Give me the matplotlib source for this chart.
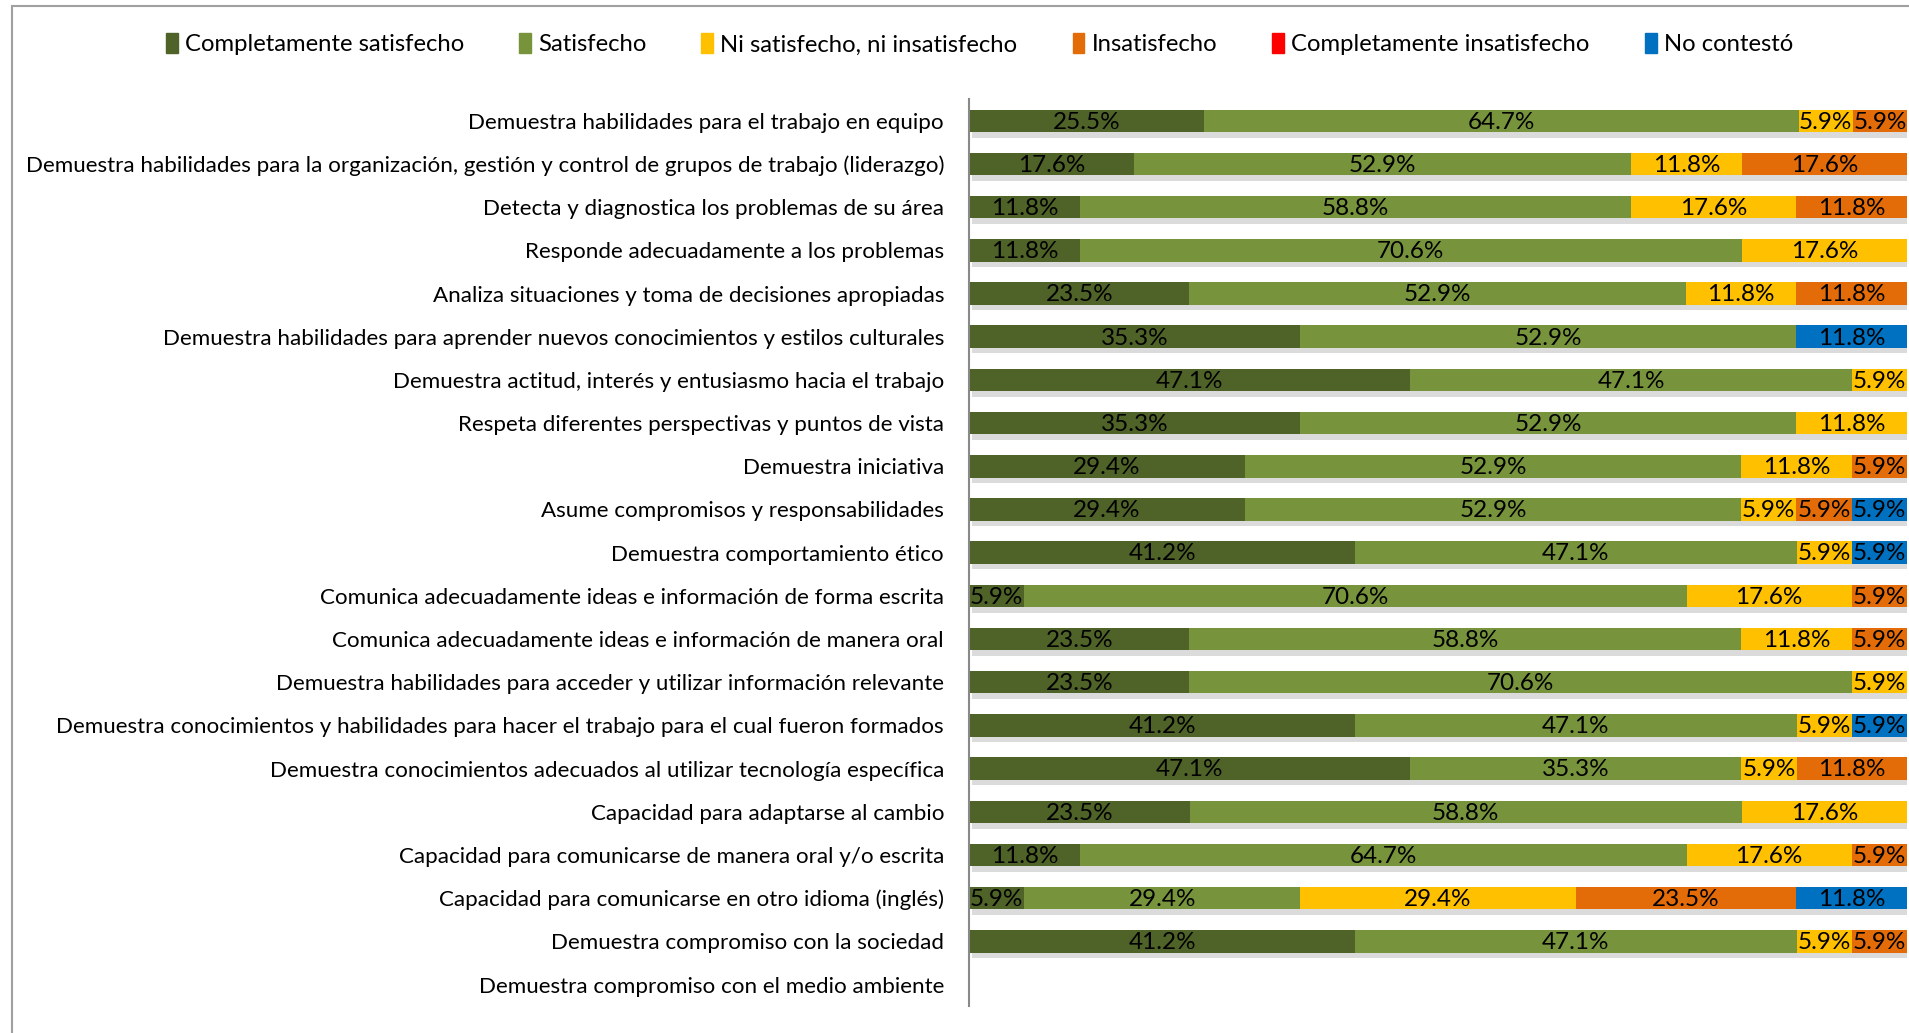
import matplotlib.pyplot as plt
import matplotlib.patheffects as pe
from matplotlib.patches import Patch
import numpy as np

plt.rcParams['font.family'] = ['Lato', 'DejaVu Sans']

categories = [
    "Demuestra habilidades para el trabajo en equipo",
    "Demuestra habilidades para la organización, gestión y control de grupos de trabajo (liderazgo)",
    "Detecta y diagnostica los problemas de su área",
    "Responde adecuadamente a los problemas",
    "Analiza situaciones y toma de decisiones apropiadas",
    "Demuestra habilidades para aprender nuevos conocimientos y estilos culturales",
    "Demuestra actitud, interés y entusiasmo hacia el trabajo",
    "Respeta diferentes perspectivas y puntos de vista",
    "Demuestra iniciativa",
    "Asume compromisos y responsabilidades",
    "Demuestra comportamiento ético",
    "Comunica adecuadamente ideas e información de forma escrita",
    "Comunica adecuadamente ideas e información de manera oral",
    "Demuestra habilidades para acceder y utilizar información relevante",
    "Demuestra conocimientos y habilidades para hacer el trabajo para el cual fueron formados",
    "Demuestra conocimientos adecuados al utilizar tecnología específica",
    "Capacidad para adaptarse al cambio",
    "Capacidad para comunicarse de manera oral y/o escrita",
    "Capacidad para comunicarse en otro idioma (inglés)",
    "Demuestra compromiso con la sociedad",
    "Demuestra compromiso con el medio ambiente",
]

series_names = ["Completamente satisfecho", "Satisfecho", "Ni satisfecho, ni insatisfecho",
                "Insatisfecho", "Completamente insatisfecho", "No contestó"]
series_colors = ["#4F6228", "#77933C", "#FFC000", "#E36C09", "#FF0000", "#0070C0"]

completamente_satisfecho = [25.5, 17.6, 11.8, 11.8, 23.5, 35.3, 47.1, 35.3, 29.4, 29.4, 41.2,
                            5.9, 23.5, 23.5, 41.2, 47.1, 23.5, 11.8, 5.9, 41.2, 0]
satisfecho = [64.7, 52.9, 58.8, 70.6, 52.9, 52.9, 47.1, 52.9, 52.9, 52.9, 47.1,
              70.6, 58.8, 70.6, 47.1, 35.3, 58.8, 64.7, 29.4, 47.1, 0]
ni_satisfecho = [5.9, 11.8, 17.6, 17.6, 11.8, 0, 5.9, 11.8, 11.8, 5.9, 5.9,
                 17.6, 11.8, 5.9, 5.9, 5.9, 17.6, 17.6, 29.4, 5.9, 0]
insatisfecho = [5.9, 17.6, 11.8, 0, 11.8, 0, 0, 0, 5.9, 5.9, 0,
                5.9, 5.9, 0, 0, 11.8, 0, 5.9, 23.5, 5.9, 0]
completamente_insatisfecho = [0] * 21
no_contesto = [0, 0, 0, 0, 0, 11.8, 0, 0, 0, 5.9, 5.9,
               0, 0, 0, 5.9, 0, 0, 0, 11.8, 0, 0]

data = np.array([completamente_satisfecho, satisfecho, ni_satisfecho,
                 insatisfecho, completamente_insatisfecho, no_contesto])
totals = data.sum(axis=0)
totals[totals == 0] = 1
shares = data / totals

fig = plt.figure(figsize=(19.09, 10.33), dpi=100)
ax = fig.add_axes([0.5076, 0.026, 0.4914, 0.878])

y = np.arange(len(categories))
shadow = [pe.withSimplePatchShadow(offset=(2, -4), shadow_rgbFace='#888888', alpha=0.3)]
left = np.zeros(len(categories))
for i, name in enumerate(series_names):
    bars = ax.barh(y, shares[i], left=left, height=0.52, color=series_colors[i],
                   path_effects=shadow, zorder=2)
    for j, b in enumerate(bars):
        if data[i, j] > 0:
            ax.text(left[j] + shares[i, j] / 2, y[j] + 0.03, f"{data[i, j]:.1f}%",
                    ha='center', va='center', fontsize=17.5, color='black', zorder=3)
    left += shares[i]

ax.set_xlim(0, 1)
ax.set_ylim(len(categories) - 0.5, -0.5)
ax.set_yticks(y)
ax.set_yticklabels(categories, fontsize=16.1)
ax.tick_params(axis='y', length=0, pad=18)
ax.set_xticks([])
for s in ['top', 'right', 'bottom']:
    ax.spines[s].set_visible(False)
ax.spines['left'].set_color('#898989')
ax.spines['left'].set_linewidth(1.5)

handles = [Patch(color=c, label=n) for c, n in zip(series_colors, series_names)]
fig.legend(handles=handles, loc='center', bbox_to_anchor=(0.513, 0.957), ncol=6,
           frameon=False, fontsize=17.2, handlelength=0.5, handleheight=0.9,
           handletextpad=0.3, columnspacing=2.3)

# outer chart border (top and left only visible)
fig.add_artist(plt.Line2D([0.0065, 1.0], [0.994, 0.994], color='#a0a0a0', lw=1.5,
                          transform=fig.transFigure))
fig.add_artist(plt.Line2D([0.0065, 0.0065], [0.0, 0.994], color='#a0a0a0', lw=1.5,
                          transform=fig.transFigure))

fig.savefig('out.png', dpi=100)
